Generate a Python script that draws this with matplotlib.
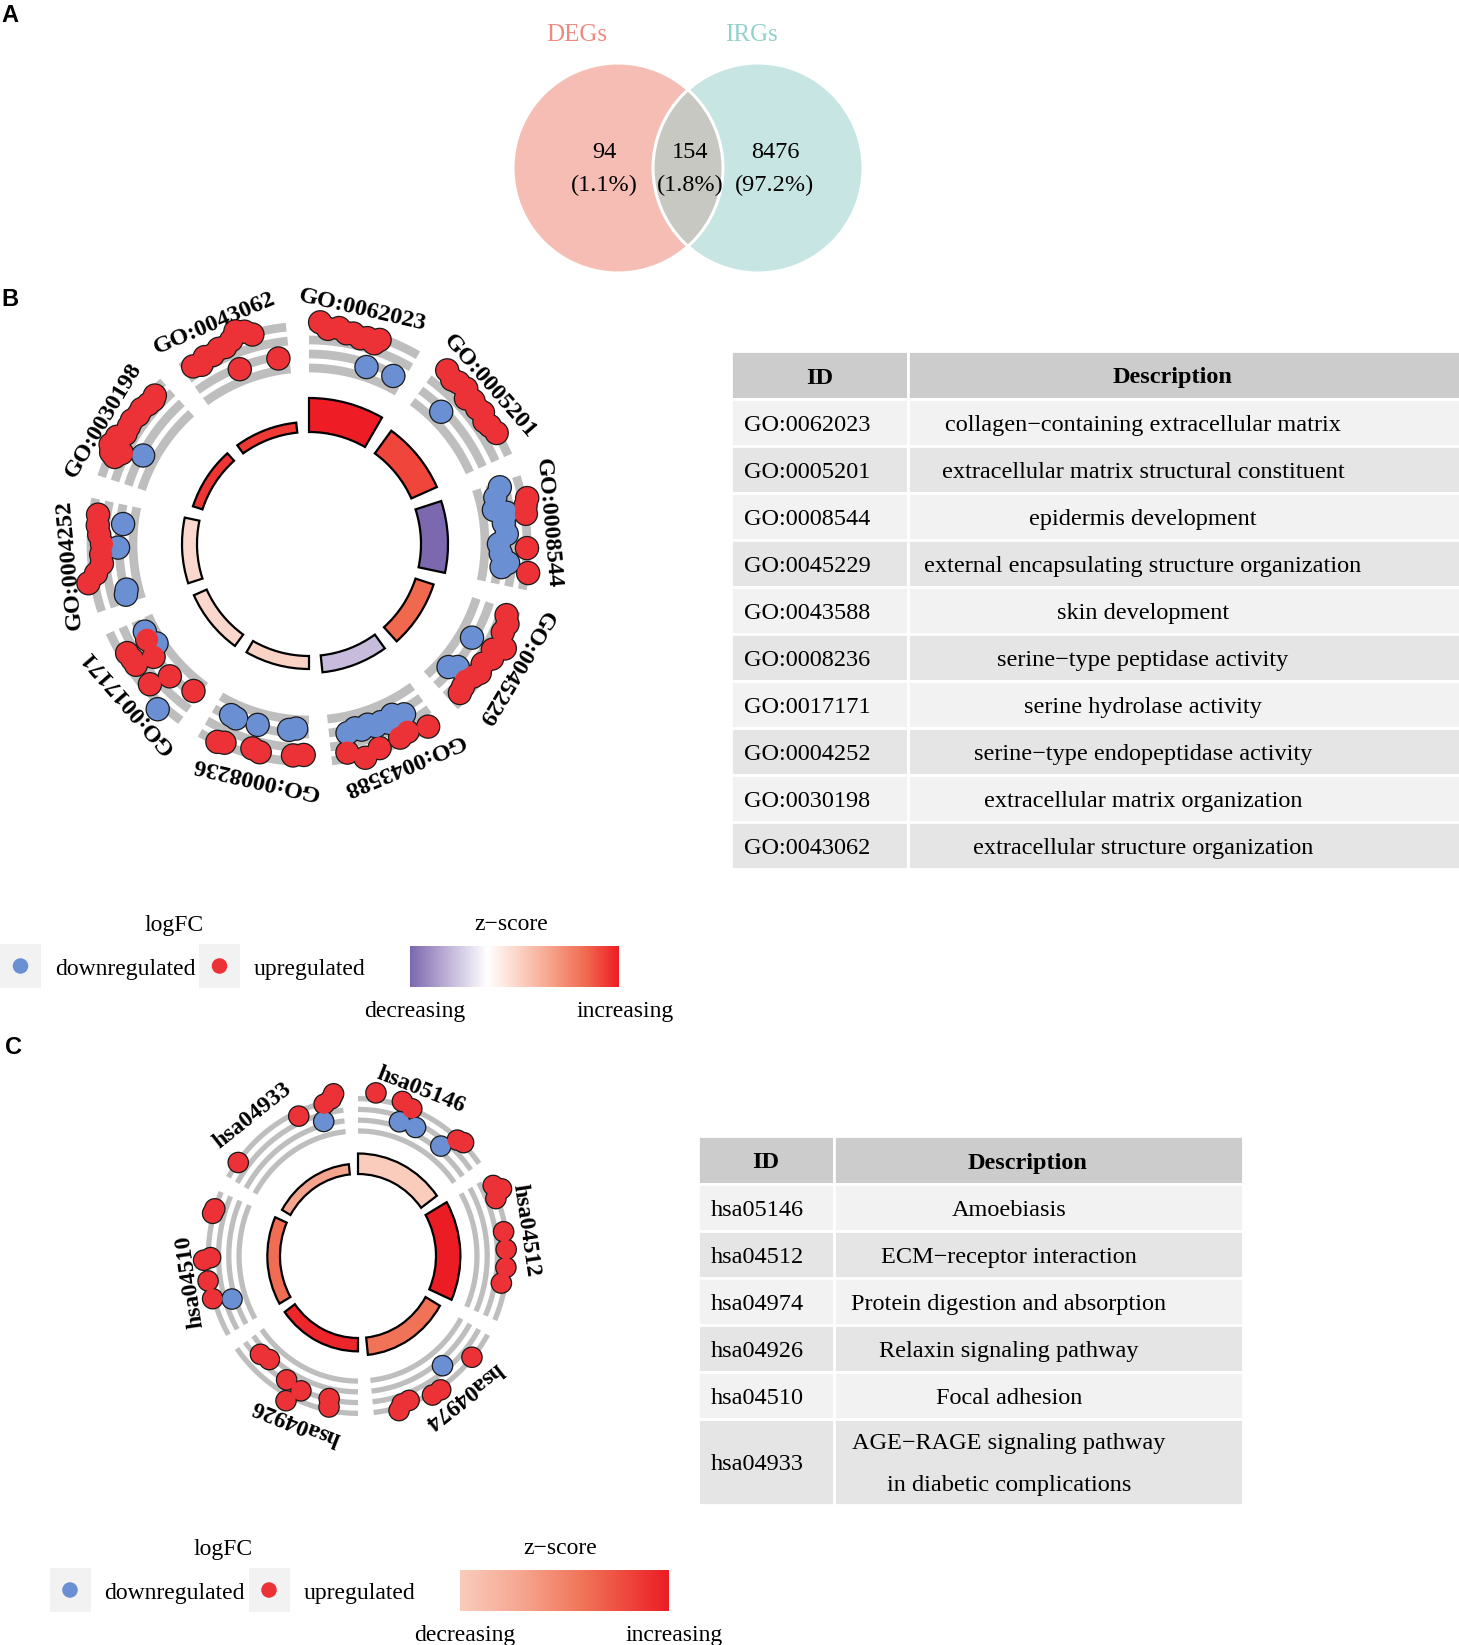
import numpy as np
import matplotlib
matplotlib.use('Agg')
import matplotlib.pyplot as plt
from matplotlib.patches import Circle, Rectangle
from matplotlib.colors import LinearSegmentedColormap, Normalize
from matplotlib.cm import ScalarMappable

W, H = 1459, 1645
SERIF = ['Liberation Serif', 'DejaVu Serif']
SANS = ['Liberation Sans', 'DejaVu Sans']

RED = '#EC3237'
BLUE = '#6B8FD3'
BAND = '#BEBEBE'

# ---------------- A: Venn diagram
venn_names = ['DEGs', 'IRGs']
venn_name_colors = ['#EE8A82', '#93D1CB']
venn_counts = [94, 154, 8476]
venn_pct = [1.1, 1.8, 97.2]

# ---------------- B: GO enrichment
go_ids = ['GO:0062023', 'GO:0005201', 'GO:0008544', 'GO:0045229', 'GO:0043588',
          'GO:0008236', 'GO:0017171', 'GO:0004252', 'GO:0030198', 'GO:0043062']
go_desc = ['collagen\u2212containing extracellular matrix',
           'extracellular matrix structural constituent',
           'epidermis development',
           'external encapsulating structure organization',
           'skin development',
           'serine\u2212type peptidase activity',
           'serine hydrolase activity',
           'serine\u2212type endopeptidase activity',
           'extracellular matrix organization',
           'extracellular structure organization']
go_zscore = [3.7, 3.2, -2.2, 2.8, -1.0, 0.87, 0.8, 0.75, 3.4, 3.35]
go_nlogp = [6.8, 5.6, 5.4, 3.8, 3.4, 2.6, 2.8, 3.0, 2.0, 2.0]
# genes of each term: position along the term arc (fraction of slot), logFC track level
go_up_pos = [[.08, .14, .22, .28, .33, .39, .44, .50, .53],
             [.07, .14, .19, .26, .31, .36, .42, .47, .53, .58, .65],
             [.17, .22, .28, .53, .71],
             [.05, .11, .18, .28, .33, .39, .46, .53, .58, .64, .69, .74],
             [.08, .23, .30, .47, .59, .71],
             [.04, .12, .37, .43, .64, .69],
             [.06, .29, .35, .50, .53, .58, .64, .65],
             [.72, .64, .57, .50, .42, .35, .28, .22],
             [.17, .19, .22, .24, .28, .31, .36, .42, .47, .53, .58, .64, .69, .72],
             [.08, .14, .19, .25, .31, .36, .42, .47, .53, .58, .40, .74]]
go_up_lvl = [[3.38, 2.92, 3.08, 2.77, 2.85, 2.62, 2.77, 2.54, 2.92],
             [3.38, 3.08, 3.23, 3.31, 2.77, 3.08, 2.92, 3.08, 2.77, 2.92, 3.08],
             [3.46, 3.23, 3.15, 3.08, 3.31],
             [2.46, 2.77, 2.69, 3.38, 2.62, 2.92, 2.54, 2.77, 2.54, 2.31, 2.46, 2.62],
             [3.08, 2.62, 2.77, 2.92, 3.31, 2.62],
             [2.54, 2.62, 2.77, 2.62, 2.92, 3.08],
             [.69, 1.08, 2.62, 1.08, 2.54, 2.54, 2.62, .77],
             [2.69, 2.62, 2.46, 2.23, 2.31, 2.31, 2.85, 3.54],
             [2.69, 3.08, 2.31, 3.38, 2.92, 3.23, 2.77, 2.85, 2.92, 2.77, 2.85, 2.69, 2.62, 2.77],
             [2.62, 2.38, 2.77, 2.62, 2.85, 2.77, 3.08, 3.62, 3.38, 3.0, .77, .77]]
go_dn_pos = [[.50, .74], [.25],
             [.04, .11, .21, .25, .33, .42, .50, .58, .65, .69],
             [.33, .60, .65],
             [.19, .28, .33, .39, .44, .50, .56, .61, .68],
             [.11, .17, .44, .63, .68],
             [.18, .58, .72],
             [.67, .47, .11, .07],
             [.28], []]
go_dn_lvl = [[.62, .77], [.69],
             [1.62, 1.08, .77, 1.69, 1.38, 1.54, .92, 1.08, 1.69, 1.23],
             [.77, 1.15, .62],
             [1.31, .92, 1.38, 1.08, 1.23, .92, 1.15, .92, 1.15],
             [.54, .69, .77, .85, .77],
             [3.54, .31, .62],
             [.69, 1.0, .77, .92],
             [.77], []]

# ---------------- C: KEGG enrichment
kegg_ids = ['hsa05146', 'hsa04512', 'hsa04974', 'hsa04926', 'hsa04510', 'hsa04933']
kegg_desc = ['Amoebiasis', 'ECM\u2212receptor interaction', 'Protein digestion and absorption',
             'Relaxin signaling pathway', 'Focal adhesion',
             'AGE\u2212RAGE signaling pathway\nin diabetic complications']
kegg_zscore = [1.6, 4.8, 3.5, 4.64, 3.6, 2.56]
kegg_nlogp = [4.0, 5.0, 3.4, 2.6, 2.6, 2.0]
kegg_up_pos = [[.11, .28, .35, .70, .74],
               [.06, .10, .14, .35, .46, .57, .67],
               [.17, .45, .51, .66, .71, .74],
               [.19, .20, .40, .46, .52, .70, .77],
               [.24, .35, .475, .49, .76, .79],
               [.11, .60, .78, .83, .85]]
kegg_up_lvl = [[3.8, 3.5, 3.1, 2.9, 3.2],
               [3.2, 3.9, 2.9, 2.8, 2.9, 2.9, 2.6],
               [3.0, 3.3, 3.3, 2.7, 2.8, 3.4],
               [2.7, 1.8, 2.0, 3.7, 1.7, 1.1, 1.4],
               [3.2, 3.3, 3.6, 2.8, 3.2, 3.1],
               [3.0, 2.6, 2.9, 3.3, 3.8]]
kegg_dn_pos = [[.30, .42, .64], [], [.35], [], [.20], [.75]]
kegg_dn_lvl = [[1.3, 1.4, 1.2], [], [1.3], [], [1.1], [1.1]]

# colour scales for z-score
cmap_b = LinearSegmentedColormap.from_list('zb', [(0, '#7B68AE'), (0.19, '#C3B6D9'), (0.37, '#FFFFFF'),
                                                   (0.52, '#FBD3C6'), (0.68, '#F5A189'), (0.84, '#F06B50'),
                                                   (1, '#EE1C25')])
norm_b = Normalize(-2.2, 3.7)
cmap_c = LinearSegmentedColormap.from_list('zc', [(0, '#F9CCBC'), (0.3, '#F5A58E'), (0.6, '#F07256'),
                                                   (1, '#EC1C24')])
norm_c = Normalize(1.6, 4.8)

fig = plt.figure(figsize=(W / 100, H / 100), dpi=100)
canvas = fig.add_axes([0, 0, 1, 1])
canvas.set_xlim(0, W)
canvas.set_ylim(H, 0)
canvas.axis('off')


def txt(x, y, s, size=17, **kw):
    kw.setdefault('ha', 'center')
    kw.setdefault('va', 'center')
    canvas.text(x, y + 3, s, fontsize=size, family=kw.pop('family', SERIF), **kw)


# panel letters
for letter, (x, y) in zip('ABC', [(10, 16), (10, 299), (13, 1047)]):
    txt(x, y - 3, letter, size=17, family=SANS, fontweight='bold')

# ---- A
vcx, vcy, vr, vd = 688, 168, 105, 140
left = Circle((vcx - vd / 2, vcy), vr, fc='#F6BDB4', ec='none')
right = Circle((vcx + vd / 2, vcy), vr, fc='#C6E5E3', ec='none')
canvas.add_patch(left)
canvas.add_patch(right)
lens = Circle((vcx + vd / 2, vcy), vr, fc='#C8C8C2', ec='none')
canvas.add_patch(lens)
lens.set_clip_path(left)
for c in (vcx - vd / 2, vcx + vd / 2):
    canvas.add_patch(Circle((c, vcy), vr, fc='none', ec='white', lw=2.2))
for name, col, dx in zip(venn_names, venn_name_colors, [-111, 63]):
    txt(vcx + dx, 32, name, size=18, color=col)
for n, p, dx in zip(venn_counts, venn_pct, [-84, 2, 87]):
    txt(vcx + dx, 149, str(n), size=17.5)
    txt(vcx + dx, 182, f'({p}%)', size=17.5)


# ---- circle plots
def gocircle(cx, cy, R, sx, sy, ids, zsc, nlogp, up_pos, up_lvl, dn_pos, dn_lvl, cmap, norm,
             inner, bar_k, lfc0, lfc_k, band0, band_dr, band_lw, label_r, label_fs, pt_s):
    ax = fig.add_axes([(cx - R * sx) / W, 1 - (cy + R * sy) / H, 2 * R * sx / W, 2 * R * sy / H],
                      projection='polar')
    ax.set_theta_zero_location('N')
    ax.set_theta_direction(-1)
    ax.set_ylim(0, R)
    ax.set_aspect('auto')
    ax.axis('off')
    n = len(ids)
    slot = 2 * np.pi / n
    span = slot - np.deg2rad(6)
    edge_s = (np.sqrt(pt_s) + 1.8) ** 2
    for i in range(n):
        t0 = i * slot
        ax.bar(t0, nlogp[i] * bar_k, width=span, bottom=inner, align='edge',
               color=cmap(norm(zsc[i])), edgecolor='black', linewidth=1.6, zorder=2)
        th = np.linspace(t0, t0 + span, 80)
        for k in range(4):
            ax.plot(th, np.full_like(th, band0 + k * band_dr), color=BAND, lw=band_lw,
                    solid_capstyle='butt', zorder=1)
        t_dn = t0 + np.array(dn_pos[i]) * slot
        r_dn = lfc0 + np.array(dn_lvl[i]) * lfc_k
        t_up = t0 + np.array(up_pos[i]) * slot
        r_up = lfc0 + np.array(up_lvl[i]) * lfc_k
        # black underlay gives the merged outline of overlapping genes
        ax.scatter(np.r_[t_dn, t_up], np.r_[r_dn, r_up], s=edge_s, c='#1A1A1A',
                   edgecolors='none', zorder=3)
        ax.scatter(t_dn, r_dn, s=pt_s, c=BLUE, edgecolors='none', zorder=4)
        ax.scatter(t_up, r_up, s=pt_s, c=RED, edgecolors='none', zorder=5)
        tl = t0 + 0.36 * slot
        ax.text(tl, label_r, ids[i], rotation=-np.degrees(tl), rotation_mode='anchor',
                ha='center', va='center', fontsize=label_fs, fontweight='bold', family=SERIF)


gocircle(309, 544, 270, 1, 1, go_ids, go_zscore, go_nlogp, go_up_pos, go_up_lvl, go_dn_pos, go_dn_lvl,
         cmap_b, norm_b, inner=112, bar_k=5, lfc0=178, lfc_k=13, band0=176, band_dr=14, band_lw=6.3,
         label_r=240, label_fs=17.5, pt_s=250)
gocircle(358, 1256, 200, 0.975, 1.025, kegg_ids, kegg_zscore, kegg_nlogp, kegg_up_pos, kegg_up_lvl,
         kegg_dn_pos, kegg_dn_lvl, cmap_c, norm_c, inner=80, bar_k=5, lfc0=126, lfc_k=9,
         band0=122, band_dr=10.5, band_lw=3.8, label_r=174, label_fs=17, pt_s=190)


# ---- tables
def draw_table(x0, y0, id_w, desc_w, ids, descs, head_cx, desc_cx, fs=17.5):
    head_h, row_h, line_h = 48, 47, 42
    canvas.add_patch(Rectangle((x0, y0), id_w, head_h, fc='#CCCCCC', ec='white', lw=2))
    canvas.add_patch(Rectangle((x0 + id_w, y0), desc_w, head_h, fc='#CCCCCC', ec='white', lw=2))
    txt(x0 + id_w / 2, y0 + head_h / 2, 'ID', size=fs, fontweight='bold')
    txt(head_cx, y0 + head_h / 2, 'Description', size=fs, fontweight='bold')
    y = y0 + head_h
    for i, (gid, d) in enumerate(zip(ids, descs)):
        lines = d.split('\n')
        h = row_h + (len(lines) - 1) * (line_h - 3)
        fc = '#F2F2F2' if i % 2 == 0 else '#E5E5E5'
        canvas.add_patch(Rectangle((x0, y), id_w, h, fc=fc, ec='white', lw=2))
        canvas.add_patch(Rectangle((x0 + id_w, y), desc_w, h, fc=fc, ec='white', lw=2))
        txt(x0 + 13, y + h / 2, gid, size=fs, ha='left')
        for j, ln in enumerate(lines):
            txt(desc_cx, y + h / 2 + (j - (len(lines) - 1) / 2) * line_h, ln, size=fs)
        y += h


draw_table(731, 351, 177, 560, go_ids, go_desc, head_cx=1172, desc_cx=1143)
draw_table(698, 1136, 136, 409, kegg_ids, kegg_desc, head_cx=1027, desc_cx=1009)


# ---- legends
def draw_legend(ox, oy, cmap, norm):
    txt(ox + 174, oy, 'logFC')
    for bx, col, lab in [(0, BLUE, 'downregulated'), (199, RED, 'upregulated')]:
        canvas.add_patch(Rectangle((ox + bx, oy + 22), 41, 44, fc='#F2F2F2', ec='none'))
        canvas.scatter([ox + bx + 20.5], [oy + 44], s=125, c=col, edgecolors='none')
        txt(ox + bx + 55, oy + 44, lab, ha='left')
    txt(ox + 511, oy, 'z\u2212score')
    cax = fig.add_axes([(ox + 410) / W, 1 - (oy + 65) / H, 209 / W, 41 / H])
    cb = fig.colorbar(ScalarMappable(norm=norm, cmap=cmap), cax=cax, orientation='horizontal')
    cb.outline.set_visible(False)
    cax.set_xticks([])
    txt(ox + 415, oy + 86, 'decreasing')
    txt(ox + 625, oy + 86, 'increasing')


draw_legend(0, 922, cmap_b, norm_b)
draw_legend(49.5, 1546, cmap_c, norm_c)

fig.savefig('out.png', dpi=100)
